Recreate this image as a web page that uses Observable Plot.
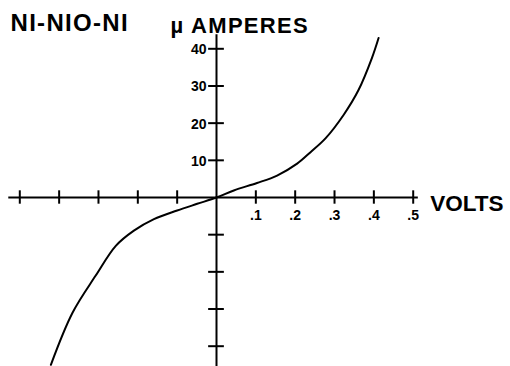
<!DOCTYPE html>
<html>
<head>
<meta charset="utf-8">
<script src="https://cdn.jsdelivr.net/npm/d3@7"></script>
<script src="https://cdn.jsdelivr.net/npm/@observablehq/plot@0.6"></script>
<style>
  html, body { margin: 0; padding: 0; background: #fff; }
  svg { display: block; }
  .ttl text { letter-spacing: 1.3px; }
  .ytl text { letter-spacing: 1.3px; }
</style>
</head>
<body>
<div id="chart"></div>
<script>
// Data
const volts = [-0.421, -0.366, -0.307, -0.256, -0.21, -0.159, -0.1, -0.049, 0, 0.044, 0.103, 0.154, 0.205, 0.239, 0.277, 0.323, 0.361, 0.395, 0.412];
const microAmps = [-45, -31, -21, -13, -8.9, -5.8, -3.5, -1.7, 0, 1.9, 3.9, 5.9, 9.1, 12.2, 15.9, 22.2, 28.9, 37.5, 42.9];
const xTicks = [-0.5, -0.4, -0.3, -0.2, -0.1, 0.1, 0.2, 0.3, 0.4, 0.5];
const xTickLabels = [".1", ".2", ".3", ".4", ".5"];
const xLabelValues = [0.1, 0.2, 0.3, 0.4, 0.5];
const yTicks = [40, 30, 20, 10, -10, -20, -30, -40];
const yLabelValues = [40, 30, 20, 10];
const yTickLabels = ["40", "30", "20", "10"];
const title = "NI-NIO-NI";
const yTitle = "µ AMPERES";
const xTitle = "VOLTS";
const xAxisExtent = [-0.528, 0.513];
const yAxisExtent = [-46, 43.8];

const curve = volts.map((v, i) => ({v, a: microAmps[i]}));
const xLab = xLabelValues.map((v, i) => ({v, t: xTickLabels[i]}));
const yLab = yLabelValues.map((a, i) => ({a, t: yTickLabels[i]}));

const font = "'Liberation Sans', Arial, Helvetica, sans-serif";

const chart = Plot.plot({
  width: 510,
  height: 366,
  marginLeft: 19.3,
  marginRight: 97.3,
  marginTop: 48.3,
  marginBottom: 20.3,
  x: {domain: [-0.5, 0.5], axis: null},
  y: {domain: [-40, 40], axis: null},
  style: {fontFamily: font, background: "#fff", color: "#000", overflow: "visible"},
  marks: [
    // axes
    Plot.ruleY([0], {x1: xAxisExtent[0], x2: xAxisExtent[1], stroke: "#000", strokeWidth: 2}),
    Plot.ruleX([0], {y1: yAxisExtent[0], y2: yAxisExtent[1], stroke: "#000", strokeWidth: 2}),
    // ticks
    Plot.ruleX(xTicks, {y1: -1.8, y2: 1.8, stroke: "#000", strokeWidth: 2}),
    Plot.ruleY(yTicks, {x1: -0.02, x2: 0.02, stroke: "#000", strokeWidth: 2}),
    // tick labels
    Plot.text(xLab, {x: "v", y: 0, text: "t", dy: 18, fontSize: 14, fontWeight: "bold", textAnchor: "middle"}),
    Plot.text(yLab, {x: 0, y: "a", text: "t", dx: -10, dy: 1, fontSize: 14, fontWeight: "bold", textAnchor: "end"}),
    // curve
    Plot.line(curve, {x: "v", y: "a", curve: "catmull-rom", stroke: "#000", strokeWidth: 2}),
    // titles
    Plot.text([title], {frameAnchor: "top-left", lineAnchor: "middle", dx: -9.3, dy: -25, fontSize: 24, fontWeight: "bold", textAnchor: "start", className: "ttl"}),
    Plot.text([yTitle], {frameAnchor: "top-left", lineAnchor: "middle", dx: 150.7, dy: -22.5, fontSize: 22, fontWeight: "bold", textAnchor: "start", className: "ytl"}),
    Plot.text([xTitle], {x: 0.5, y: 0, dx: 17, dy: 6, fontSize: 22.5, fontWeight: "bold", textAnchor: "start"})
  ]
});

document.getElementById("chart").appendChild(chart);
</script>
</body>
</html>
